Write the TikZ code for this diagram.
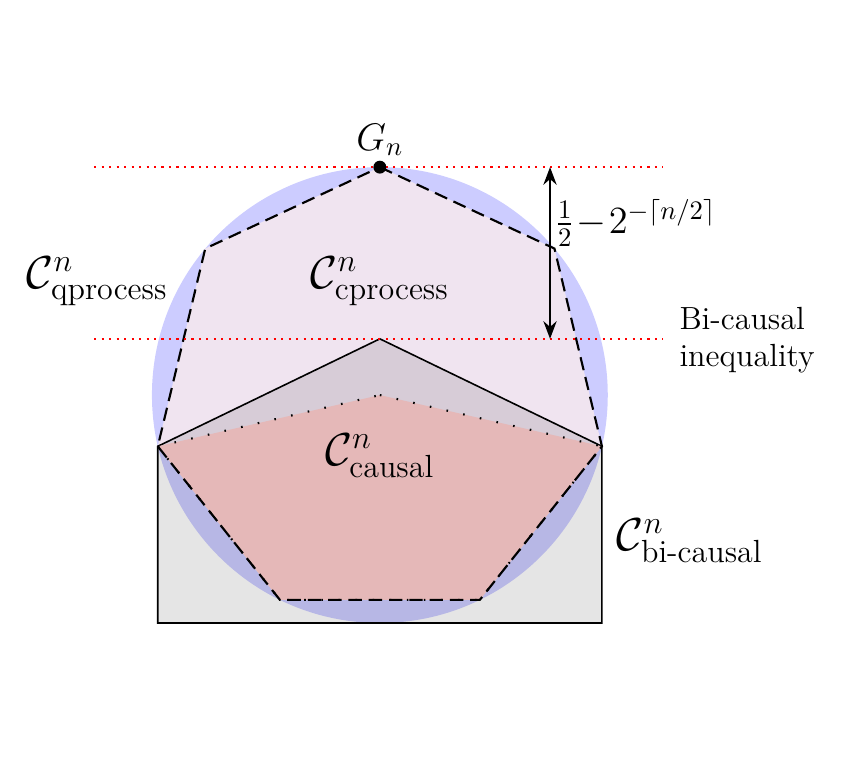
\documentclass[tikz,border=0pt]{standalone}
\usepackage{amsmath}
\usepackage{amssymb}
\definecolor{qblue}{RGB}{204, 204, 255}
\definecolor{cpink}{RGB}{240, 228, 240}
\definecolor{causalred}{RGB}{229, 184, 184}
\usetikzlibrary{arrows.meta, positioning, calc}

\begin{document}
\begin{tikzpicture}[
    region/.style={font=\LARGE},
    ineq/.style={red, dotted, thick},
    cproc/.style={thick, dash pattern=on 5pt off 2.6pt},
    causalline/.style={thick, dash pattern=on 0.6pt off 5.8pt},
    bicausal/.style={fill=black, fill opacity=0.1, draw=black, draw opacity=1, line width=0.6pt},
    arrow/.style={{Stealth[scale=1]}-{Stealth[scale=1]}, thick}
]
    \useasboundingbox (-5,-5.04) rectangle (6.32,5.2);
    % Vertices on the sphere
    \coordinate (G) at (0,3);
    \coordinate (cpR) at (40:3);
    \coordinate (cpL) at (140:3);
    \coordinate (bR) at (-13:3);
    \coordinate (bL) at (193:3);
    \coordinate (caR) at (-64:3);
    \coordinate (caL) at (-116:3);
    \coordinate (roof) at (0,0.74);
    \coordinate (ctop) at (0,0);
    \coordinate (rbR) at ($(bR)+(0,-2.325)$);
    \coordinate (rbL) at ($(bL)+(0,-2.325)$);

    % Fills
    \fill[qblue] (0,0) circle (3);
    \fill[cpink] (G) -- (cpR) -- (bR) -- (caR) -- (caL) -- (bL) -- (cpL) -- cycle;
    \draw[bicausal] (bL) -- (roof) -- (bR) -- (rbR) -- (rbL) -- cycle;
    \fill[causalred] (ctop) -- (bR) -- (caR) -- (caL) -- (bL) -- cycle;

    % Borders
    \draw[cproc] (G) -- (cpR) -- (bR) -- (caR) -- (caL) -- (bL) -- (cpL) -- cycle;
    \draw[causalline] (ctop) -- (bR) -- (caR) -- (caL) -- (bL) -- cycle;

    % Bounds
    \draw[ineq] (-3.76,3) coordinate (t1) -- (3.72,3) coordinate (t2);
    \draw[ineq] (-3.76,0.74) coordinate (b1) -- (3.72,0.74) coordinate (b2);
    \coordinate (aTop) at (2.24,3);
    \coordinate (aBot) at (2.24,0.74);
    \draw[arrow] (aTop) -- (aBot);
    \fill (G) circle (0.085);

    % Labels
    \node[font=\Large] (gn) at (0,3.36) {$G_n$};
    \node[region] (qproc) at (-3.72,1.5) {$\mathcal{C}^n_{\text{qprocess}}$};
    \node[region] (cproc) at (0,1.5) {$\mathcal{C}^n_{\text{cprocess}}$};
    \node[region] (causal) at (0,-0.8) {$\mathcal{C}^n_{\text{causal}}$};
    \node[region] (bicaus) at (4.08,-1.92) {$\mathcal{C}^n_{\text{bi-causal}}$};
    \node[font=\Large, anchor=west] (gap) at (2.18,2.26) {$\tfrac{1}{2}\!-\!2^{-\lceil n/2\rceil}$};
    \node[font=\large, anchor=west, align=left] (bineq) at (3.82,0.72) {Bi-causal\\inequality};
\end{tikzpicture}
\end{document}
